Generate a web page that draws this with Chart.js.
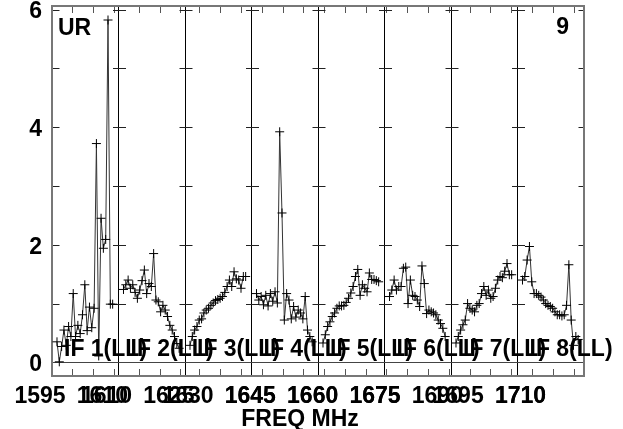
<!DOCTYPE html>
<html>
<head>
<meta charset="utf-8">
<script src="https://cdn.jsdelivr.net/npm/chart.js@4.4.0/dist/chart.umd.min.js"></script>
<style>
  html, body { margin: 0; padding: 0; background: #fff; }
</style>
</head>
<body>
<canvas id="grafico" width="623" height="429"></canvas>
<script>
// 8 IF de 16 MHz, cada uno en su panel
const ifNames = ['IF 1(LL)', 'IF 2(LL)', 'IF 3(LL)', 'IF 4(LL)', 'IF 5(LL)', 'IF 6(LL)', 'IF 7(LL)', 'IF 8(LL)'];
const ifStart = [1595.0, 1610.0, 1626.4, 1642.4, 1658.4, 1674.4, 1690.4, 1706.4]; // MHz
const ifWidth = 16;
const chanFirst = 1.2;   // MHz desde el inicio del IF
const chanStep = 0.558;  // MHz entre canales
const ifLabels = [[1595, 1610], [1610, 1625], [1630, 1645], [1645, 1660], [1660, 1675], [1675, 1690], [1695, 1710], [1710]];
const minorStep = 5;
const yTickValues = [0, 1, 2, 3, 4, 5, 6];
const yTickLabels = ['0', '', '2', '', '4', '', '6'];
const xTitle = 'FREQ MHz';
const cornerLeft = 'UR';
const cornerRight = '9';

// amplitud por canal
const amp1 = [0.36, 0.02, 0.28, 0.56, 0.30, 0.62, 0.45, 1.18, 0.45, 0.64, 0.50, 0.82, 1.33, 0.55, 0.95, 0.60, 0.93, 3.73, 0.12, 2.46, 1.95, 2.10, 5.83, 1.00, 1.00];
const amp2 = [1.25, 1.33, 1.41, 1.27, 1.33, 1.20, 1.10, 1.24, 1.40, 1.58, 1.18, 1.35, 1.30, 1.86, 1.07, 1.04, 0.87, 0.98, 0.90, 0.79, 0.64, 0.56, 0.45, 0.33, 0.25];
const amp3 = [0.30, 0.45, 0.56, 0.62, 0.73, 0.75, 0.85, 0.90, 0.93, 0.98, 1.02, 1.06, 1.08, 1.10, 1.13, 1.20, 1.30, 1.41, 1.30, 1.55, 1.43, 1.41, 1.27, 1.47, 1.47];
const amp4 = [1.18, 1.07, 1.13, 0.99, 1.15, 0.97, 1.18, 1.05, 1.21, 1.02, 3.93, 2.55, 0.73, 1.18, 1.07, 0.75, 0.96, 0.78, 0.90, 0.85, 0.75, 1.13, 0.56, 0.45, 0.36];
const amp5 = [0.34, 0.48, 0.62, 0.70, 0.79, 0.85, 0.93, 0.97, 0.97, 0.98, 1.03, 1.10, 1.19, 1.30, 1.47, 1.59, 1.15, 1.33, 1.27, 1.21, 1.53, 1.42, 1.42, 1.40, 1.38];
const amp6 = [1.13, 1.24, 1.41, 1.24, 1.30, 1.30, 1.61, 1.63, 1.01, 1.41, 1.15, 1.13, 1.07, 0.96, 1.65, 1.35, 0.84, 0.90, 0.87, 0.85, 0.82, 0.73, 0.67, 0.59, 0.45];
const amp7 = [0.34, 0.45, 0.56, 0.65, 0.73, 1.01, 0.93, 0.90, 0.87, 0.98, 1.01, 1.18, 1.30, 1.15, 1.24, 1.10, 1.13, 1.27, 1.41, 1.47, 1.45, 1.56, 1.69, 1.50, 1.50];
const amp8 = [1.41, 1.47, 1.75, 1.98, 1.38, 1.18, 1.18, 1.15, 1.12, 1.07, 1.01, 0.98, 0.96, 0.93, 0.87, 0.82, 0.82, 0.80, 0.82, 0.98, 1.67, 0.73, 0.30, 0.45, 0.40];
const amps = [amp1, amp2, amp3, amp4, amp5, amp6, amp7, amp8];

const fuente = { family: '"Liberation Sans", Arial, sans-serif', size: 23, weight: 'bold' };
const nPanels = ifNames.length;

// posicion global: panel k ocupa [k*ifWidth, (k+1)*ifWidth]
function posGlobal(k, f) { return k * ifWidth + (f - ifStart[k]); }

const minorTicks = [];
ifStart.forEach((s, k) => {
    for (let f = Math.ceil(s / minorStep) * minorStep; f <= s + ifWidth; f += minorStep) {
        minorTicks.push(posGlobal(k, f));
    }
});
const labelTicks = [];
ifLabels.forEach((lista, k) => lista.forEach(f => labelTicks.push({ value: posGlobal(k, f), txt: String(f) })));
const separadores = [];
for (let k = 1; k < nPanels; k++) separadores.push(k * ifWidth);

function patronY(chart) {
    const a = chart.chartArea;
    if (!a) return [];
    const w = (a.right - a.left) / nPanels;
    return [13, w - 13];
}

function sinPadding(s) {
    s.paddingTop = 0; s.paddingBottom = 0; s.paddingLeft = 0; s.paddingRight = 0;
}

const textos = {
    id: 'textos',
    afterDraw(chart) {
        const { ctx, chartArea, scales: { x } } = chart;
        ctx.save();
        ctx.font = 'bold 23px "Liberation Sans", Arial, sans-serif';
        ctx.fillStyle = '#000';
        ctx.textBaseline = 'alphabetic';
        ifNames.forEach((n, k) => ctx.fillText(n, x.getPixelForValue(k * ifWidth) + 12, chartArea.bottom - 20));
        ctx.fillText(cornerLeft, chartArea.left + 6, chartArea.top + 29);
        ctx.textAlign = 'right';
        ctx.fillText(cornerRight, chartArea.right - 15, chartArea.top + 28);
        ctx.textAlign = 'center';
        ctx.fillText(xTitle, 300, 426);
        ctx.restore();
    }
};

const ctx = document.getElementById('grafico');
new Chart(ctx, {
    type: 'line',
    data: {
        datasets: amps.map((a, k) => ({
            label: ifNames[k],
            data: a.map((v, i) => ({ x: k * ifWidth + chanFirst + i * chanStep, y: v })),
            borderColor: '#333',
            borderWidth: 1,
            pointStyle: 'cross',
            pointRadius: 4.5,
            pointBorderColor: '#000',
            pointBorderWidth: 1,
            tension: 0,
            fill: false
        }))
    },
    options: {
        responsive: false,
        animation: false,
        devicePixelRatio: 1,
        layout: { padding: 0 },
        plugins: { legend: { display: false }, tooltip: { enabled: false } },
        scales: {
            x: {
                type: 'linear', position: 'bottom', min: 0, max: nPanels * ifWidth,
                afterBuildTicks: s => {
                    s.ticks = minorTicks.map(v => ({ value: v, txt: '' })).concat(labelTicks.map(t => ({ value: t.value, txt: t.txt })));
                },
                afterFit: s => { s.height = 53; sinPadding(s); },
                ticks: {
                    autoSkip: false, maxRotation: 0, minRotation: 0, labelOffset: -12, padding: 14,
                    color: '#000', font: fuente,
                    callback: (v, i, ticks) => ticks[i].txt
                },
                grid: { drawOnChartArea: false, tickLength: -7, tickColor: '#555', tickWidth: 1 },
                border: { color: '#777', width: 2 }
            },
            x2: {
                type: 'linear', position: 'top', min: 0, max: nPanels * ifWidth,
                afterBuildTicks: s => {
                    s.ticks = minorTicks.concat(separadores).map(v => ({ value: v }));
                },
                afterFit: s => { s.height = 6; sinPadding(s); },
                ticks: { display: false },
                grid: {
                    drawOnChartArea: true, lineWidth: 1, tickLength: -7, tickWidth: 1,
                    color: c => (c.tick && separadores.includes(c.tick.value)) ? '#000' : 'rgba(0,0,0,0)',
                    tickColor: c => (c.tick && separadores.includes(c.tick.value)) ? '#000' : '#555'
                },
                border: { color: '#777', width: 2 }
            },
            y: {
                type: 'linear', position: 'left', min: -0.221, max: 6.068,
                afterBuildTicks: s => { s.ticks = yTickValues.map(v => ({ value: v })); },
                afterFit: s => { s.width = 52; sinPadding(s); },
                ticks: {
                    padding: 10, labelOffset: 2, color: '#000', font: fuente,
                    callback: (v) => yTickLabels[yTickValues.indexOf(v)]
                },
                grid: {
                    drawTicks: false, lineWidth: 1,
                    color: c => (c.tick && c.tick.value === 0) ? '#444' : '#222'
                },
                border: {
                    color: '#777', width: 2,
                    dash: c => (c.tick && c.tick.value !== 0) ? patronY(c.chart) : [],
                    dashOffset: 6.5
                }
            },
            y2: {
                type: 'linear', position: 'right',
                afterFit: s => { s.width = 39; sinPadding(s); },
                ticks: { display: false },
                grid: { display: false },
                border: { color: '#777', width: 2 }
            }
        }
    },
    plugins: [textos]
});
</script>
</body>
</html>
